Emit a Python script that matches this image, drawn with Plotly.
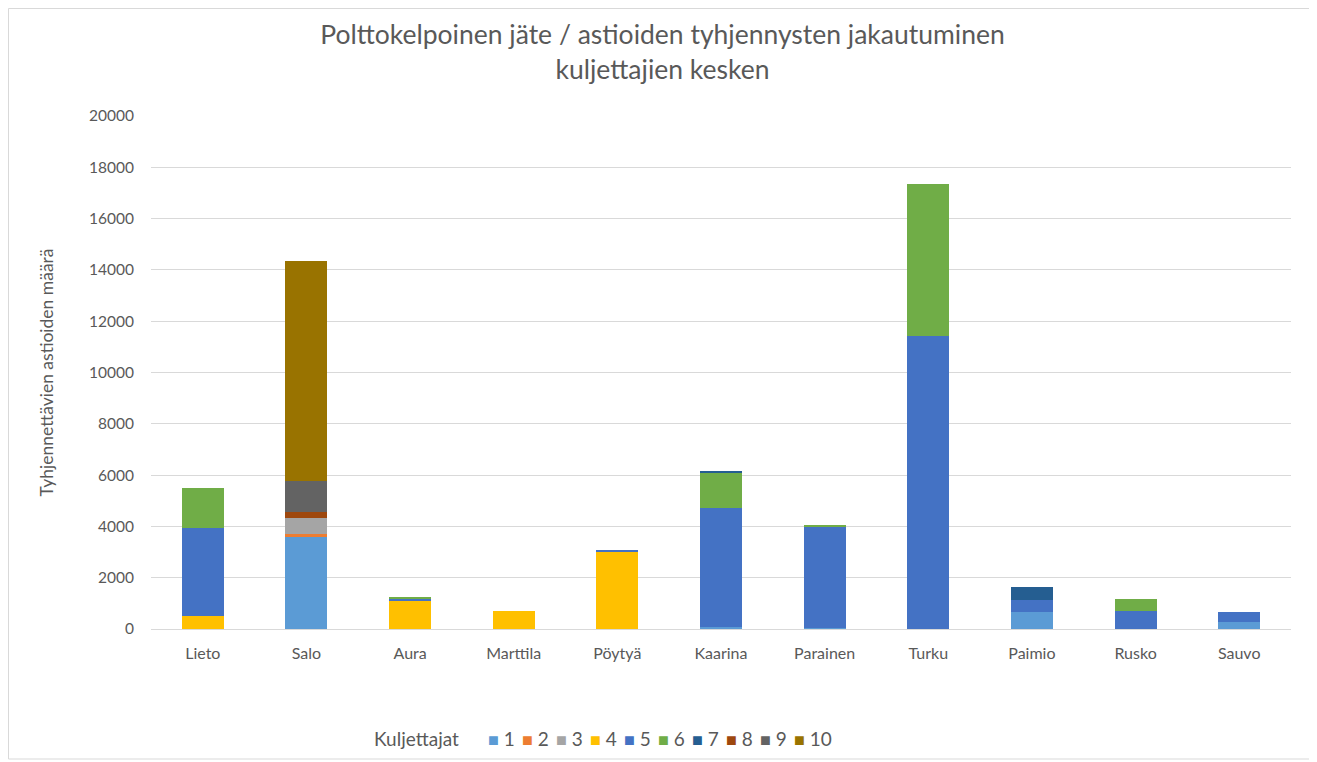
import plotly.graph_objects as go

categories = ["Lieto", "Salo", "Aura", "Marttila", "Pöytyä", "Kaarina", "Parainen", "Turku", "Paimio", "Rusko", "Sauvo"]
drivers = ["1", "2", "3", "4", "5", "6", "7", "8", "9", "10"]

d1 = [0, 3600, 0, 0, 0, 90, 20, 0, 680, 0, 280]
d2 = [0, 100, 0, 0, 0, 0, 0, 0, 0, 0, 0]
d3 = [0, 640, 0, 0, 0, 0, 0, 0, 0, 0, 0]
d4 = [520, 0, 1130, 710, 3030, 0, 0, 0, 0, 0, 0]
d5 = [3430, 0, 70, 0, 60, 4630, 3960, 11430, 450, 700, 380]
d6 = [1560, 0, 30, 0, 0, 1380, 80, 5910, 0, 460, 0]
d7 = [0, 0, 0, 0, 0, 40, 0, 0, 500, 0, 0]
d8 = [0, 230, 0, 0, 0, 0, 0, 0, 0, 0, 0]
d9 = [0, 1210, 0, 0, 0, 0, 0, 0, 0, 0, 0]
d10 = [0, 8570, 0, 0, 0, 0, 0, 0, 0, 0, 0]

series = [d1, d2, d3, d4, d5, d6, d7, d8, d9, d10]
colors = ["#5B9BD5", "#ED7D31", "#A5A5A5", "#FFC000", "#4472C4",
          "#70AD47", "#255E91", "#9E480E", "#636363", "#997300"]

FONT = "Lato, 'Open Sans', sans-serif"
GRAY = "#595959"

fig = go.Figure()
for name, vals, col in zip(drivers, series, colors):
    fig.add_trace(go.Bar(x=categories, y=vals, name=name, showlegend=False,
                         marker=dict(color=col, line=dict(width=0))))

# page body has an 8px margin, so the figure is sized to fit the window
W, H = 1309, 754
L, R, T, B = 143, 26, 108, 133
pw, ph = W - L - R, H - T - B

fig.update_layout(
    width=W, height=H,
    barmode="stack", bargap=0.595,
    plot_bgcolor="white", paper_bgcolor="white",
    margin=dict(l=L, r=R, t=T, b=B),
    font=dict(family=FONT, color=GRAY, size=16),
    title=dict(text="Polttokelpoinen jäte / astioiden tyhjennysten jakautuminen<br>kuljettajien kesken",
               x=0.5, xanchor="center", y=0.952, yanchor="top",
               font=dict(family=FONT, size=26.5, color=GRAY)),
    xaxis=dict(showgrid=False, showline=True, linecolor="#D9D9D9", linewidth=1,
               ticks="", tickfont=dict(size=16, color=GRAY), ticklabelstandoff=10),
    yaxis=dict(range=[0, 20000], dtick=2000, tickformat="d", showgrid=True,
               gridcolor="#D9D9D9", gridwidth=1, zeroline=False, showline=False,
               ticks="", tickfont=dict(size=15.5, color=GRAY), ticklabelstandoff=16,
               title=dict(text="Tyhjennettävien astioiden määrä",
                          font=dict(size=17.5, color=GRAY), standoff=30)),
)

# legend (built from drivers and colors)
sq = "<span style='font-size:18px;color:{c}'>■</span>\u00a0{n}"
legend_text = "Kuljettajat" + "\u00a0" * 6 + "\u00a0\u2009".join(
    sq.format(c=c, n=n) for n, c in zip(drivers, colors))
fig.add_annotation(text=legend_text, xref="paper", yref="paper",
                   x=(364 - L) / pw, xanchor="left", y=(H - B - 730) / ph, yanchor="middle",
                   showarrow=False, font=dict(size=19, color=GRAY))

# chart area border
fig.add_shape(type="rect", xref="paper", yref="paper",
              x0=(0.5 - L) / pw, x1=(1305 - L) / pw,
              y0=(H - B - 751) / ph, y1=(H - B - 0.5) / ph,
              line=dict(color="#D9D9D9", width=1), fillcolor="rgba(0,0,0,0)", layer="below")

fig.write_html("out.html")
